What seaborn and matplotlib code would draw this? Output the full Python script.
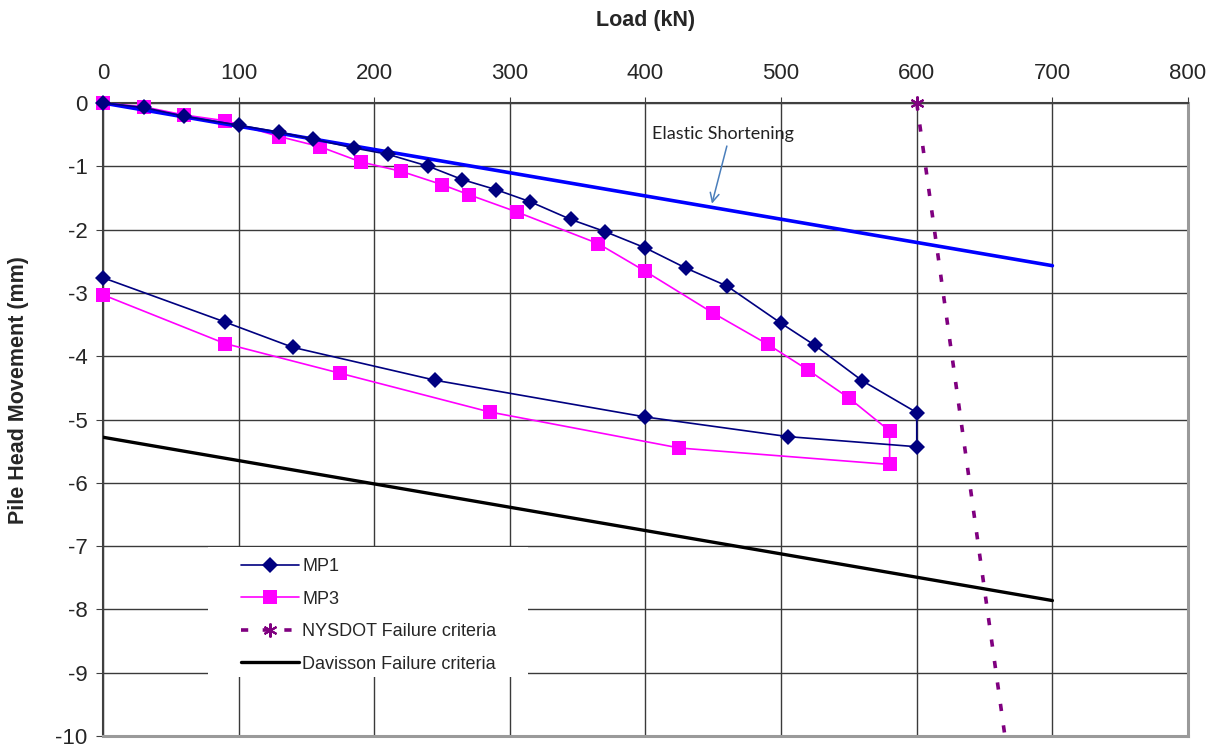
import matplotlib
matplotlib.use("Agg")
import matplotlib.pyplot as plt
import seaborn as sns
import pandas as pd
from matplotlib.patches import Rectangle

# ---- data ----
mp1_load = [0, 30, 60, 100, 130, 155, 185, 210, 240, 265, 290, 315, 345, 370, 400, 430, 460,
            500, 525, 560, 600, 600, 505, 400, 245, 140, 90, 0]
mp1_move = [0, -0.07, -0.21, -0.35, -0.46, -0.57, -0.71, -0.81, -1.0, -1.21, -1.37, -1.56, -1.84,
            -2.03, -2.29, -2.61, -2.89, -3.48, -3.83, -4.39, -4.89, -5.43, -5.27, -4.96, -4.38,
            -3.86, -3.46, -2.76]
mp3_load = [0, 30, 60, 90, 130, 160, 190, 220, 250, 270, 305, 365, 400, 450, 490, 520, 550,
            580, 580, 425, 285, 175, 90, 0]
mp3_move = [0, -0.06, -0.19, -0.28, -0.53, -0.69, -0.93, -1.08, -1.29, -1.45, -1.72, -2.22,
            -2.66, -3.32, -3.81, -4.22, -4.66, -5.18, -5.71, -5.45, -4.88, -4.27, -3.80, -3.03]
elastic_load = [0, 700]
elastic_move = [0, -2.57]
davisson_load = [0, 700]
davisson_move = [-5.28, -7.86]
nysdot_load = [600, 665]
nysdot_move = [0, -10]
x_ticks = [0, 100, 200, 300, 400, 500, 600, 700, 800]
y_ticks = [0, -1, -2, -3, -4, -5, -6, -7, -8, -9, -10]

sns.set_style("white")
plt.rcParams['font.family'] = ['Liberation Sans', 'DejaVu Sans']
plt.rcParams['axes.unicode_minus'] = False

fig = plt.figure(figsize=(12.14, 7.48), dpi=100)
ax = fig.add_axes([0.0848, 0.016, 0.8938, 0.8463])

df1 = pd.DataFrame({'load': mp1_load, 'move': mp1_move})
df3 = pd.DataFrame({'load': mp3_load, 'move': mp3_move})

sns.lineplot(data=df1, x='load', y='move', sort=False, estimator=None, ax=ax,
             color='#000080', lw=1.2, marker='D', markersize=8.5, markeredgewidth=0,
             label='MP1', zorder=4, clip_on=False)
sns.lineplot(data=df3, x='load', y='move', sort=False, estimator=None, ax=ax,
             color='#FF00FF', lw=1.2, marker='s', markersize=9.5, markeredgewidth=0,
             label='MP3', zorder=3, clip_on=False)
sns.lineplot(x=nysdot_load, y=nysdot_move, sort=False, estimator=None, ax=ax,
             color='#800080', lw=2.6, label='NYSDOT Failure criteria', zorder=5)
sns.lineplot(x=davisson_load, y=davisson_move, sort=False, estimator=None, ax=ax,
             color='black', lw=2.4, label='Davisson Failure criteria', zorder=3)
sns.lineplot(x=elastic_load, y=elastic_move, sort=False, estimator=None, ax=ax,
             color='#0000FF', lw=2.6, zorder=3)

# style NYSDOT line
nline = [l for l in ax.get_lines() if l.get_label() == 'NYSDOT Failure criteria'][0]
nline.set_dashes((2, 4))
nline.set_dash_capstyle('butt')
nline.set_clip_on(False)
nline.set_marker((6, 2, 0))
nline.set_markevery([0])
nline.set_markersize(10)
nline.set_markeredgewidth(1.5)
nline.set_markeredgecolor('#800080')
nline.set_markerfacecolor('#800080')

ax.set_xlim(0, 800)
ax.set_ylim(-10, 0)
ax.set_xticks(x_ticks)
ax.set_yticks(y_ticks)
ax.xaxis.tick_top()
ax.xaxis.set_label_position('top')
ax.tick_params(axis='x', which='both', top=True, bottom=False, direction='out', length=4,
               pad=9.5, labelsize=16, color='#404040')
ax.tick_params(axis='y', direction='out', length=5, pad=6, labelsize=16, color='#404040', left=True)

ax.grid(True, color='#3a3a3a', lw=1.0)
ax.set_axisbelow(True)

for s in ['top', 'left']:
    ax.spines[s].set_color('#404040')
    ax.spines[s].set_linewidth(1.5)
for s in ['right', 'bottom']:
    ax.spines[s].set_color('#9a9a9a')
    ax.spines[s].set_linewidth(2.2)

ax.set_xlabel('Load (kN)', fontsize=15.5, fontweight='bold', va='center')
ax.xaxis.set_label_coords(0.5, 1.131)
ax.set_ylabel('Pile Head Movement (mm)', fontsize=15.5, fontweight='bold', va='center')
ax.yaxis.set_label_coords(-0.078, 0.546)

# annotation
ax.text(405, -0.49, 'Elastic Shortening', fontsize=13, family=['Lato', 'DejaVu Sans'],
        color='#222222', va='center', ha='left')
ax.annotate('', xy=(449, -1.59), xytext=(460, -0.68),
            arrowprops=dict(arrowstyle='->', color='#4A7EBB', lw=1.1,
                            mutation_scale=16, shrinkA=0, shrinkB=0))

# legend background
ax.add_patch(Rectangle((0.0968, 0.093), 0.295, 0.206, transform=ax.transAxes,
                       facecolor='white', edgecolor='none', zorder=1))
leg = ax.legend(loc='upper left', bbox_to_anchor=(0.127, 0.281), frameon=False,
                borderpad=0, borderaxespad=0, handlelength=3.2, handletextpad=0.2,
                labelspacing=0.86, fontsize=13)
leg.set_zorder(6)

fig.savefig('out.png', dpi=100)
